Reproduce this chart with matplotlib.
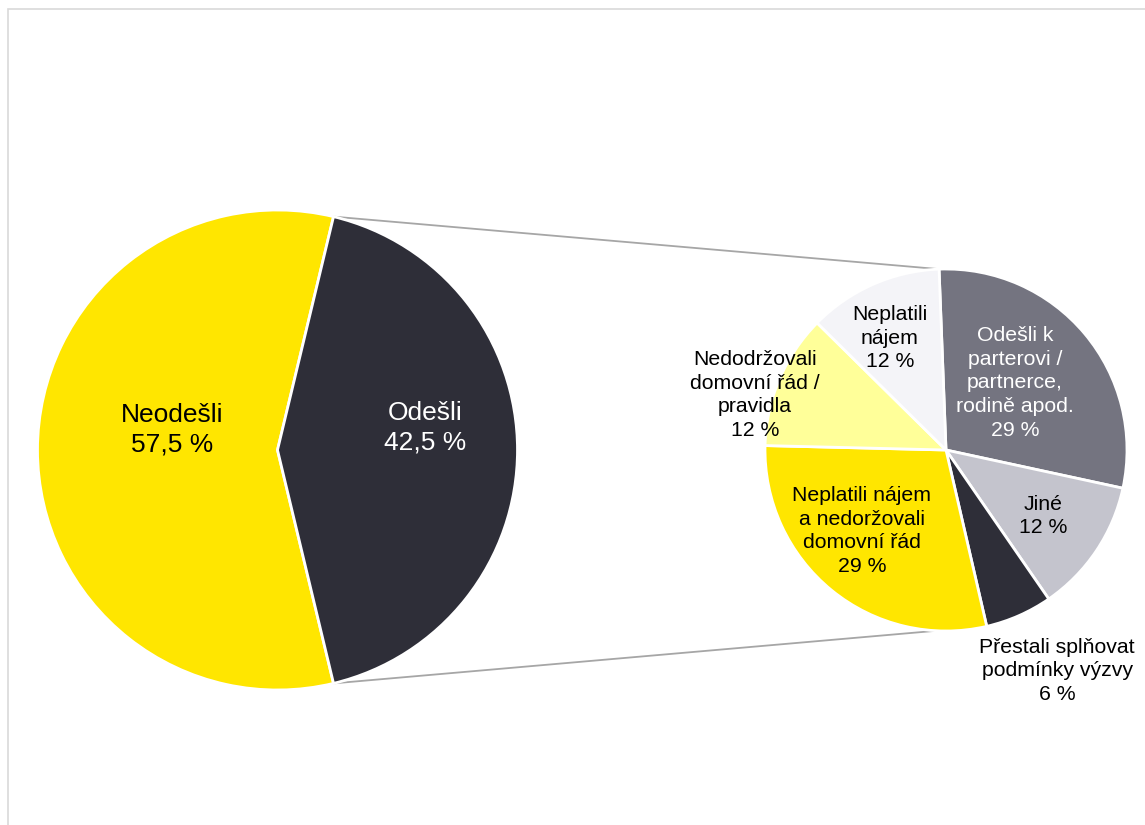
import matplotlib.pyplot as plt
import numpy as np
from matplotlib.patches import Rectangle

plt.rcParams['font.family'] = ['Liberation Sans', 'DejaVu Sans']

# main pie
main_labels = ['Neodešli', 'Odešli']
main_values = [57.5, 42.5]
main_text = ['57,5 %', '42,5 %']
main_colors = ['#ffe600', '#2e2e38']

# breakdown of "Odešli"
sub_labels = ['Odešli k\nparterovi /\npartnerce,\nrodině apod.',
              'Jiné',
              'Přestali splňovat\npodmínky výzvy',
              'Neplatili nájem\na nedoržovali\ndomovní řád',
              'Nedodržovali\ndomovní řád /\npravidla',
              'Neplatili\nnájem']
sub_values = [29, 12, 6, 29, 12, 12]
sub_colors = ['#747480', '#c4c4cd', '#2e2e38', '#ffe600', '#ffff99', '#f4f4f8']
sub_text_colors = ['white', 'black', 'black', 'black', 'black', 'black']

W, H = 1145, 825
fig = plt.figure(figsize=(W / 100, H / 100), dpi=100)
ax = fig.add_axes([0, 0, 1, 1])
ax.set_xlim(0, W)
ax.set_ylim(0, H)
ax.set_aspect('equal')
ax.axis('off')

# light frame (left/top visible)
ax.add_patch(Rectangle((8, -20), W + 50, H - 9 + 20, fill=False,
                       edgecolor='#d9d9d9', linewidth=1.2))

c1, r1 = (277.5, 375), 240
c2, r2 = (946, 375), 181

start1 = 360 * main_values[1] / 200
ax.pie(main_values, colors=main_colors, center=c1, radius=r1,
       startangle=start1, counterclock=True,
       wedgeprops=dict(edgecolor='white', linewidth=2), frame=True)

ax.pie(sub_values, colors=sub_colors, center=c2, radius=r2,
       startangle=92.2, counterclock=False,
       wedgeprops=dict(edgecolor='white', linewidth=2), frame=True)
ax.set_xlim(0, W)
ax.set_ylim(0, H)
ax.axis('off')

# connector lines
a_top1, a_bot1 = np.radians(start1), np.radians(-start1)
a_top2 = np.radians(92.2)
a_bot2 = np.radians(92.2 - 360 * sum(sub_values[:3]) / 100)
ax.plot([c1[0] + r1 * np.cos(a_top1), c2[0] + r2 * np.cos(a_top2)],
        [c1[1] + r1 * np.sin(a_top1), c2[1] + r2 * np.sin(a_top2)],
        color='#a6a6a6', linewidth=1.3, zorder=0)
ax.plot([c1[0] + r1 * np.cos(a_bot1), c2[0] + r2 * np.cos(a_bot2)],
        [c1[1] + r1 * np.sin(a_bot1), c2[1] + r2 * np.sin(a_bot2)],
        color='#a6a6a6', linewidth=1.3, zorder=0)

# main labels
main_pos = [(172, H - 430), (425, H - 428)]
for lab, t, (x, y), col in zip(main_labels, main_text, main_pos, ['black', 'white']):
    ax.text(x, y, f'{lab}\n{t}', ha='center', va='center', fontsize=19,
            color=col, linespacing=1.3)

# sub labels
sub_pos = [(1015, H - 383), (1043, H - 516), (1057, H - 671),
           (862, H - 531), (755, H - 395), (890, H - 338)]
for lab, v, (x, y), col in zip(sub_labels, sub_values, sub_pos, sub_text_colors):
    ax.text(x, y, f'{lab}\n{v} %', ha='center', va='center', fontsize=15.3,
            color=col, linespacing=1.32)

fig.savefig('out.png', dpi=100, facecolor='white')
